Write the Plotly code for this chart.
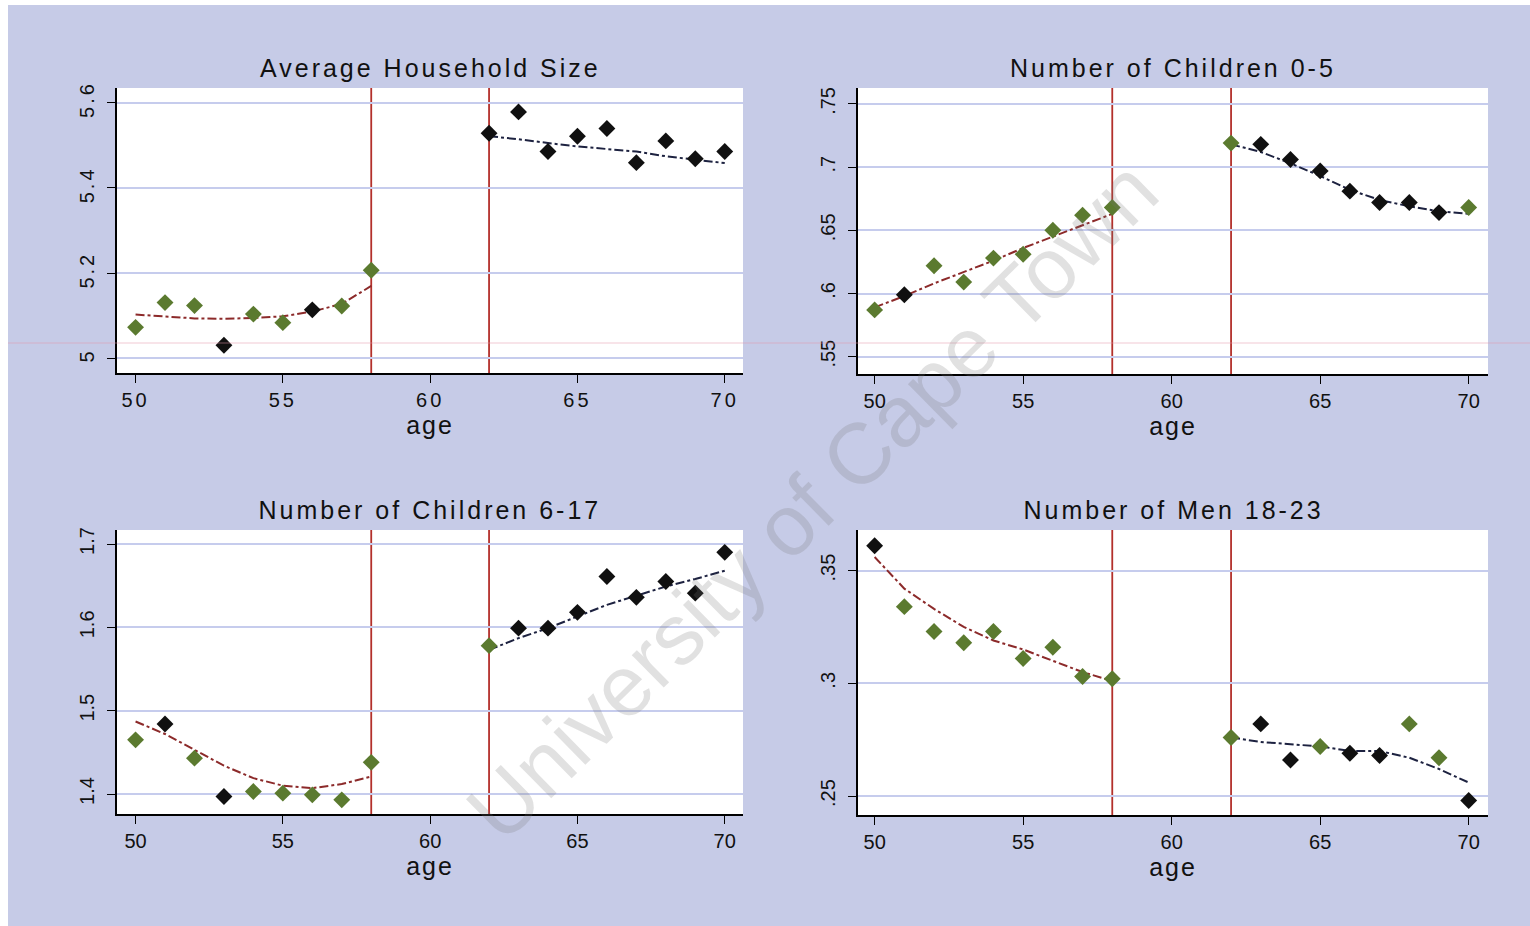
import plotly.graph_objects as go

# ---------------- data ----------------
ages_left = [50, 51, 52, 53, 54, 55, 56, 57, 58]
ages_right = [62, 63, 64, 65, 66, 67, 68, 69, 70]
cutoffs = [58, 62]
x_ticks = [50, 55, 60, 65, 70]

titles = ["Average Household Size", "Number of Children 0-5",
          "Number of Children 6-17", "Number of Men 18-23"]

# Average household size
hh_left = [5.073, 5.131, 5.124, 5.031, 5.104, 5.084, 5.114, 5.123, 5.207]
hh_right = [5.528, 5.578, 5.485, 5.521, 5.539, 5.459, 5.510, 5.468, 5.485]
hh_grp_left = ["g", "g", "g", "b", "g", "g", "b", "g", "g"]
hh_grp_right = ["b", "b", "b", "b", "b", "b", "b", "b", "b"]
hh_fit_left = [5.103, 5.098, 5.094, 5.093, 5.095, 5.099, 5.110, 5.128, 5.170]
hh_fit_right = [5.521, 5.514, 5.505, 5.497, 5.491, 5.485, 5.474, 5.466, 5.458]
hh_ticks = [5.0, 5.2, 5.4, 5.6]
hh_ticktext = ["5", "5.2", "5.4", "5.6"]

# Children 0-5
c05_left = [0.587, 0.599, 0.622, 0.609, 0.628, 0.631, 0.650, 0.662, 0.668]
c05_right = [0.719, 0.718, 0.706, 0.697, 0.681, 0.672, 0.672, 0.664, 0.668]
c05_grp_left = ["g", "b", "g", "g", "g", "g", "g", "g", "g"]
c05_grp_right = ["g", "b", "b", "b", "b", "b", "b", "b", "g"]
c05_fit_left = [0.589, 0.598, 0.608, 0.617, 0.626, 0.636, 0.645, 0.654, 0.663]
c05_fit_right = [0.718, 0.712, 0.703, 0.693, 0.682, 0.674, 0.669, 0.665, 0.663]
c05_ticks = [0.55, 0.60, 0.65, 0.70, 0.75]
c05_ticktext = [".55", ".6", ".65", ".7", ".75"]

# Children 6-17
c617_left = [1.465, 1.484, 1.443, 1.397, 1.403, 1.401, 1.399, 1.393, 1.438]
c617_right = [1.578, 1.599, 1.599, 1.618, 1.661, 1.636, 1.655, 1.641, 1.690]
c617_grp_left = ["g", "b", "g", "b", "g", "g", "g", "g", "g"]
c617_grp_right = ["g", "b", "b", "b", "b", "b", "b", "b", "b"]
c617_fit_left = [1.487, 1.472, 1.453, 1.434, 1.419, 1.410, 1.407, 1.412, 1.421]
c617_fit_right = [1.573, 1.587, 1.599, 1.613, 1.627, 1.638, 1.649, 1.658, 1.668]
c617_ticks = [1.4, 1.5, 1.6, 1.7]
c617_ticktext = ["1.4", "1.5", "1.6", "1.7"]

# Men 18-23
men_left = [0.361, 0.334, 0.323, 0.318, 0.323, 0.311, 0.316, 0.303, 0.302]
men_right = [0.276, 0.282, 0.266, 0.272, 0.269, 0.268, 0.282, 0.267, 0.248]
men_grp_left = ["b", "g", "g", "g", "g", "g", "g", "g", "g"]
men_grp_right = ["g", "b", "b", "g", "b", "b", "g", "g", "b"]
men_fit_left = [0.356, 0.342, 0.333, 0.325, 0.319, 0.315, 0.310, 0.305, 0.301]
men_fit_right = [0.276, 0.274, 0.273, 0.272, 0.270, 0.270, 0.267, 0.262, 0.256]
men_ticks = [0.25, 0.30, 0.35]
men_ticktext = [".25", ".3", ".35"]

watermark = "University of Cape Town"

# ---------------- styling ----------------
W, H = 1530, 926
BG = "#c6cbe7"
GREEN = "#5b7a2f"
BLACK = "#101010"
FIT_L = "#8c2a2a"
FIT_R = "#1d2240"
RED = "#b3302b"
GRID = "#c6cced"
FONT = "Liberation Sans, Arial, sans-serif"

def px_x(p):
    return p / W

def px_y(p):
    return 1 - p / H

panels = [
    dict(left=hh_left, right=hh_right, gl=hh_grp_left, gr=hh_grp_right,
         fl=hh_fit_left, fr=hh_fit_right, ticks=hh_ticks, tt=hh_ticktext,
         dom=(117, 743, 88, 373), xr=[49.37, 70.62], yr=[4.966, 5.634]),
    dict(left=c05_left, right=c05_right, gl=c05_grp_left, gr=c05_grp_right,
         fl=c05_fit_left, fr=c05_fit_right, ticks=c05_ticks, tt=c05_ticktext,
         dom=(858, 1488, 88, 374), xr=[49.44, 70.65], yr=[0.5363, 0.7626]),
    dict(left=c617_left, right=c617_right, gl=c617_grp_left, gr=c617_grp_right,
         fl=c617_fit_left, fr=c617_fit_right, ticks=c617_ticks, tt=c617_ticktext,
         dom=(117, 743, 530, 814), xr=[49.37, 70.62], yr=[1.376, 1.7168]),
    dict(left=men_left, right=men_right, gl=men_grp_left, gr=men_grp_right,
         fl=men_fit_left, fr=men_fit_right, ticks=men_ticks, tt=men_ticktext,
         dom=(858, 1488, 530, 815), xr=[49.44, 70.65], yr=[0.2416, 0.368]),
]

fig = go.Figure()
layout = dict(
    width=W, height=H, margin=dict(l=0, r=0, t=0, b=0),
    paper_bgcolor=BG, plot_bgcolor="white", showlegend=False,
    font=dict(family=FONT, color="#111111"),
)
shapes = []
annotations = []

for i, p in enumerate(panels):
    n = "" if i == 0 else str(i + 1)
    xa, ya = "x" + n, "y" + n
    x0, x1, y0, y1 = p["dom"]
    col_l = [GREEN if g == "g" else BLACK for g in p["gl"]]
    col_r = [GREEN if g == "g" else BLACK for g in p["gr"]]
    fig.add_trace(go.Scatter(x=ages_left, y=p["fl"], mode="lines", xaxis=xa, yaxis=ya,
                             line=dict(color=FIT_L, width=2, dash="dashdot")))
    fig.add_trace(go.Scatter(x=ages_right, y=p["fr"], mode="lines", xaxis=xa, yaxis=ya,
                             line=dict(color=FIT_R, width=2, dash="dashdot")))
    fig.add_trace(go.Scatter(x=ages_left + ages_right, y=p["left"] + p["right"],
                             mode="markers", xaxis=xa, yaxis=ya,
                             marker=dict(symbol="diamond", size=13, color=col_l + col_r,
                                         line=dict(width=0))))
    layout["xaxis" + n] = dict(
        domain=[px_x(x0), px_x(x1)], anchor=ya, range=p["xr"],
        tickvals=x_ticks, ticks="outside", ticklen=8, tickwidth=1.3, tickcolor="black",
        showline=True, linecolor="black", linewidth=1.6, showgrid=False, zeroline=False,
        tickfont=dict(size=20, family=FONT, color="#111"),
        title=dict(text="age", font=dict(size=25, family=FONT, color="#111"), standoff=2),
        automargin=False,
    )
    layout["yaxis" + n] = dict(
        domain=[px_y(y1), px_y(y0)], anchor=xa, range=p["yr"],
        tickvals=p["ticks"], ticktext=p["tt"], tickangle=-90,
        ticks="outside", ticklen=8, tickwidth=1.3, tickcolor="black",
        showline=True, linecolor="black", linewidth=1.6,
        showgrid=True, gridcolor=GRID, gridwidth=1.5, zeroline=False,
        tickfont=dict(size=20, family=FONT, color="#111"), automargin=False,
        ticklabelstandoff=5,
    )
    for c in cutoffs:
        shapes.append(dict(type="line", xref=xa, yref=ya + " domain", x0=c, x1=c, y0=0, y1=1,
                           line=dict(color=RED, width=1.8), layer="below"))
    annotations.append(dict(text=titles[i], xref="paper", yref="paper",
                            x=px_x((x0 + x1) / 2), y=px_y(y0 - 20), xanchor="center",
                            yanchor="middle", showarrow=False,
                            font=dict(size=25, family=FONT, color="#111")))

# page white border strips and scan line
shapes.append(dict(type="rect", xref="paper", yref="paper", x0=0, x1=px_x(8), y0=0, y1=1,
                   fillcolor="white", line=dict(width=0), layer="below"))
shapes.append(dict(type="rect", xref="paper", yref="paper", x0=0, x1=1, y0=px_y(5), y1=1,
                   fillcolor="white", line=dict(width=0), layer="below"))
shapes.append(dict(type="line", xref="paper", yref="paper", x0=px_x(8), x1=1,
                   y0=px_y(343), y1=px_y(343),
                   line=dict(color="rgba(225,150,170,0.35)", width=1.5), layer="above"))

annotations.append(dict(text=watermark, xref="paper", yref="paper", x=px_x(812), y=px_y(500),
                        xanchor="center", yanchor="middle", showarrow=False, textangle=-44.5,
                        font=dict(size=86, family=FONT, color="rgba(120,120,120,0.22)")))

layout["shapes"] = shapes
layout["annotations"] = annotations
fig.update_layout(**layout)

post = """
var gd = document.getElementById('{plot_id}');
function spacing(){
  gd.querySelectorAll('.xtick text, .ytick text').forEach(function(t){ t.style.letterSpacing='3px'; });
  gd.querySelectorAll('.g-xtitle text, .g-x2title text, .g-x3title text, .g-x4title text').forEach(function(t){ t.style.letterSpacing='2px'; });
  gd.querySelectorAll('.annotation-text').forEach(function(t){
    if (t.textContent.indexOf('University') < 0) { t.style.letterSpacing='3px'; }
  });
}
spacing();
"""
fig.write_html("out.html", post_script=post)
